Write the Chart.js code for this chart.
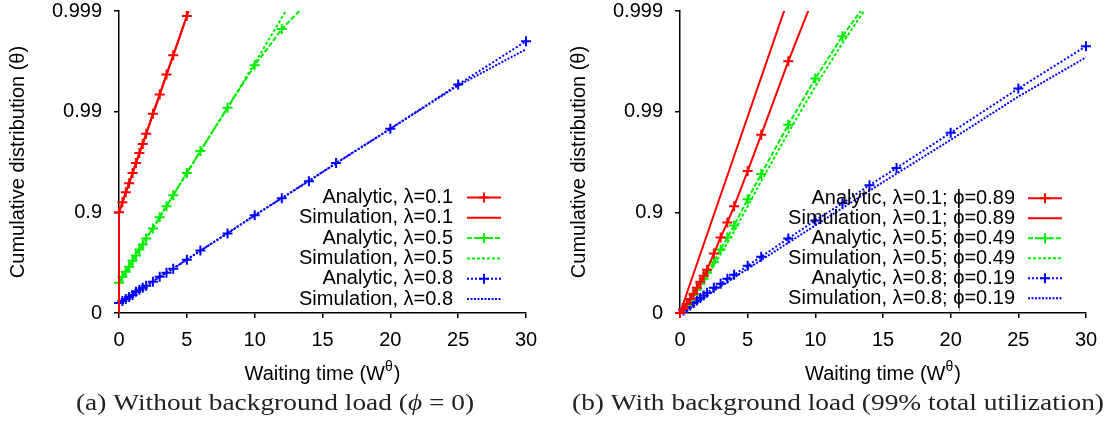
<!DOCTYPE html>
<html><head><meta charset="utf-8">
<script src="https://cdn.jsdelivr.net/npm/chart.js@4/dist/chart.umd.min.js"></script>
<style>
html,body{margin:0;padding:0;background:#fff;width:1107px;height:422px;overflow:hidden}
#a{position:absolute;left:0;top:0;width:553px;height:422px}
#b{position:absolute;left:553px;top:0;width:554px;height:422px}
</style></head><body>
<div id="a"><canvas id="ca"></canvas></div>
<div id="b"><canvas id="cb"></canvas></div>
<script>
// ---- data (y values are positions on the 0 / 0.9 / 0.99 / 0.999 scale: 0,1,2,3) ----
const waitTimes = [0,0.25,0.5,0.75,1,1.25,1.5,1.75,2,2.5,3,3.5,4,5,6,8,10,12,14,16,20,25,30];
const xTickStep = 5;
const yTickLabels = ['0','0.9','0.99','0.999'];

// (a) without background load
const anaA_l01 = [1.00,1.10,1.20,1.29,1.39,1.49,1.59,1.68,1.78,1.98,2.17,2.37,2.56,2.95];
const anaA_l05 = [0.30,0.36,0.41,0.46,0.52,0.57,0.63,0.68,0.74,0.84,0.95,1.06,1.17,1.39,1.61,2.04,2.46,2.82,3.10];
const anaA_l08 = [0.10,0.12,0.14,0.16,0.18,0.21,0.23,0.25,0.27,0.31,0.36,0.40,0.44,0.53,0.62,0.79,0.97,1.14,1.31,1.49,1.83,2.27,2.70];
const simA_l01_t = [0,0,1,2,3,4,5,5.13];
const simA_l01_y = [0,1.00,1.39,1.78,2.17,2.56,2.95,3.00];
const simA_l05_t = [0,0,2,4,6,8,10,12.3];
const simA_l05_y = [0,0.30,0.74,1.17,1.61,2.04,2.48,3.00];
const simA_l08_t = [0,0,5,10,15,20,25,30];
const simA_l08_y = [0,0.10,0.53,0.97,1.40,1.83,2.26,2.62];

// (b) with background load
const anaB_l01 = [0.00,0.04,0.09,0.14,0.19,0.25,0.31,0.37,0.43,0.59,0.75,0.90,1.06,1.41,1.77,2.50,3.18];
const anaB_l05 = [0.00,0.04,0.08,0.13,0.18,0.23,0.29,0.34,0.40,0.51,0.63,0.75,0.87,1.13,1.38,1.87,2.33,2.75,3.12];
const anaB_l08 = [0.00,0.025,0.05,0.075,0.10,0.125,0.15,0.175,0.20,0.25,0.29,0.34,0.38,0.47,0.56,0.74,0.92,1.09,1.27,1.44,1.79,2.23,2.65];
const simB_l01_t = [0,2,4,6,8];
const simB_l01_y = [0,0.78,1.56,2.34,3.12];
const simB_l05_t = [0,2,4,6,8,10,12,13.6];
const simB_l05_y = [0,0.36,0.81,1.31,1.79,2.25,2.68,3.00];
const simB_l08_t = [0,5,10,15,20,25,30];
const simB_l08_y = [0,0.44,0.87,1.30,1.72,2.15,2.54];

const labelsA = ['Analytic, λ=0.1','Simulation, λ=0.1','Analytic, λ=0.5','Simulation, λ=0.5','Analytic, λ=0.8','Simulation, λ=0.8'];
const labelsB = ['Analytic, λ=0.1; ϕ=0.89','Simulation, λ=0.1; ϕ=0.89','Analytic, λ=0.5; ϕ=0.49','Simulation, λ=0.5; ϕ=0.49','Analytic, λ=0.8; ϕ=0.19','Simulation, λ=0.8; ϕ=0.19'];

// ---- styling ----
const SANS = '"Liberation Sans", Arial, Helvetica, sans-serif';
const SERIF = '"Liberation Serif", "Times New Roman", serif';
const RED = '#ff0000', GREEN = '#00ee00', BLUE = '#0000ff';

function pts(xs, ys){ return ys.map((y,i)=>({x:xs[i], y:y})); }
function ds(label, data, color, dash, markers){
  return {label, data, borderColor: color, backgroundColor: color, borderWidth: 2,
    borderDash: dash, showLine: true, fill: false, tension: 0,
    pointStyle: 'cross', pointRadius: markers ? 5 : 0, pointBorderWidth: 2,
    pointHoverRadius: 0, pointBorderColor: color,
    clip: {left: 8, top: 0, right: 8, bottom: 8}};
}

const decor = {
  id: 'decor',
  afterDraw(chart, args, o) {
    const ctx = chart.ctx, ca = chart.chartArea;
    // y title
    ctx.save();
    ctx.fillStyle = '#000';
    ctx.font = '20px ' + SANS;
    ctx.textAlign = 'center'; ctx.textBaseline = 'middle';
    ctx.translate(o.yTitleX, (ca.top + ca.bottom) / 2);
    ctx.rotate(-Math.PI / 2);
    ctx.fillText('Cumulative distribution (θ)', 0, 0);
    ctx.restore();
    // x title with superscript
    ctx.save();
    ctx.fillStyle = '#000';
    ctx.textAlign = 'left'; ctx.textBaseline = 'alphabetic';
    ctx.font = '20px ' + SANS;
    const p1 = 'Waiting time (W', p3 = ')';
    const w1 = ctx.measureText(p1).width, w3 = ctx.measureText(p3).width;
    ctx.font = '14px ' + SANS;
    const w2 = ctx.measureText('θ').width + 1;
    let x = (ca.left + ca.right) / 2 - (w1 + w2 + w3) / 2;
    const base = 380;
    ctx.font = '20px ' + SANS; ctx.fillText(p1, x, base); x += w1;
    ctx.font = '14px ' + SANS; ctx.fillText('θ', x, base - 9); x += w2;
    ctx.font = '20px ' + SANS; ctx.fillText(p3, x, base);
    ctx.restore();
    // legend
    ctx.save();
    ctx.font = '20px ' + SANS;
    ctx.textAlign = 'right'; ctx.textBaseline = 'middle';
    const n = chart.data.datasets.length;
    if (o.phiRule) {
      // faint vertical rule through the stacked phi glyphs, as in the original
      const tail = ctx.measureText('=0.89').width, phiW = ctx.measureText('ϕ').width;
      const px = Math.round(o.legTextRight - tail - phiW / 2) + 0.5;
      ctx.strokeStyle = '#9a9a9a'; ctx.lineWidth = 1;
      ctx.beginPath(); ctx.moveTo(px, o.legTop - 7); ctx.lineTo(px, o.legTop + (n - 1) * o.legStep + 13); ctx.stroke();
    }
    chart.data.datasets.forEach((d, i) => {
      const y = o.legTop + i * o.legStep;
      ctx.fillStyle = '#000';
      ctx.fillText(d.label, o.legTextRight, y);
      ctx.strokeStyle = d.borderColor; ctx.lineWidth = 2;
      ctx.setLineDash(d.borderDash || []);
      ctx.beginPath(); ctx.moveTo(o.legX1, y); ctx.lineTo(o.legX2, y); ctx.stroke();
      ctx.setLineDash([]);
      if (d.pointRadius > 0) {
        const cx = (o.legX1 + o.legX2) / 2, r = 5;
        ctx.beginPath();
        ctx.moveTo(cx - r, y); ctx.lineTo(cx + r, y);
        ctx.moveTo(cx, y - r); ctx.lineTo(cx, y + r);
        ctx.stroke();
      }
    });
    ctx.restore();
    // caption (serif, stretched to target width)
    ctx.save();
    ctx.fillStyle = '#222';
    ctx.textAlign = 'left'; ctx.textBaseline = 'alphabetic';
    const runs = o.caption;
    let total = 0;
    runs.forEach(r => { ctx.font = (r.it ? 'italic ' : '') + '24px ' + SERIF; r.w = ctx.measureText(r.t).width; total += r.w; });
    const sx = (o.capRight - o.capLeft) / total;
    ctx.translate(o.capLeft, 410);
    ctx.scale(sx, 1);
    let cx = 0;
    runs.forEach(r => { ctx.font = (r.it ? 'italic ' : '') + '24px ' + SERIF; ctx.fillText(r.t, cx, 0); cx += r.w; });
    ctx.restore();
  }
};

function makeChart(id, datasets, leftW, rightPad, dec) {
  const axisGrid = {drawOnChartArea: false, drawTicks: true, tickLength: 5, color: '#000', lineWidth: 1.5};
  const axisBorder = {display: true, color: '#000', width: 1.5};
  const tickFont = {family: SANS, size: 20, lineHeight: 1};
  return new Chart(document.getElementById(id), {
    type: 'scatter',
    data: {datasets},
    options: {
      responsive: true, maintainAspectRatio: false, animation: false, events: [],
      layout: {padding: {top: 11, right: rightPad, left: 0, bottom: 0}},
      plugins: {legend: {display: false}, tooltip: {enabled: false}, decor: dec},
      scales: {
        x: {type: 'linear', min: 0, max: 30,
            ticks: {stepSize: xTickStep, font: tickFont, color: '#000', padding: 12, maxRotation: 0, autoSkip: false},
            grid: axisGrid, border: axisBorder,
            afterFit: s => { s.height = 109; s.paddingLeft = 0; s.paddingRight = 0; }},
        y: {type: 'linear', min: 0, max: 3,
            ticks: {stepSize: 1, font: tickFont, color: '#000', padding: 12, callback: v => yTickLabels[v]},
            grid: axisGrid, border: axisBorder,
            afterFit: s => { s.width = leftW; s.paddingTop = 0; s.paddingBottom = 0; }}
      }
    },
    plugins: [decor]
  });
}

const tA = n => waitTimes.slice(0, n);
makeChart('ca', [
  ds(labelsA[0], pts(tA(anaA_l01.length), anaA_l01), RED, [], true),
  ds(labelsA[1], pts(simA_l01_t, simA_l01_y), RED, [], false),
  ds(labelsA[2], pts(tA(anaA_l05.length), anaA_l05), GREEN, [5,2], true),
  ds(labelsA[3], pts(simA_l05_t, simA_l05_y), GREEN, [3,2], false),
  ds(labelsA[4], pts(tA(anaA_l08.length), anaA_l08), BLUE, [2,2], true),
  ds(labelsA[5], pts(simA_l08_t, simA_l08_y), BLUE, [2,1.5], false)
], 119, 27, {yTitleX: 18.5, legTop: 197.5, legStep: 20.3, legTextRight: 453, legX1: 467, legX2: 501,
   capLeft: 76, capRight: 474, phiRule: false,
   caption: [{t: '(a) Without background load ('}, {t: 'ϕ', it: true}, {t: ' = 0)'}]});

makeChart('cb', [
  ds(labelsB[0], pts(tA(anaB_l01.length), anaB_l01), RED, [], true),
  ds(labelsB[1], pts(simB_l01_t, simB_l01_y), RED, [], false),
  ds(labelsB[2], pts(tA(anaB_l05.length), anaB_l05), GREEN, [5,2], true),
  ds(labelsB[3], pts(simB_l05_t, simB_l05_y), GREEN, [3,2], false),
  ds(labelsB[4], pts(tA(anaB_l08.length), anaB_l08), BLUE, [2,2], true),
  ds(labelsB[5], pts(simB_l08_t, simB_l08_y), BLUE, [2,1.5], false)
], 127, 21, {yTitleX: 26.5, legTop: 198.3, legStep: 20, legTextRight: 462, legX1: 475, legX2: 509,
   capLeft: 19, capRight: 551, phiRule: true,
   caption: [{t: '(b) With background load (99% total utilization)'}]});
</script>
</body></html>
